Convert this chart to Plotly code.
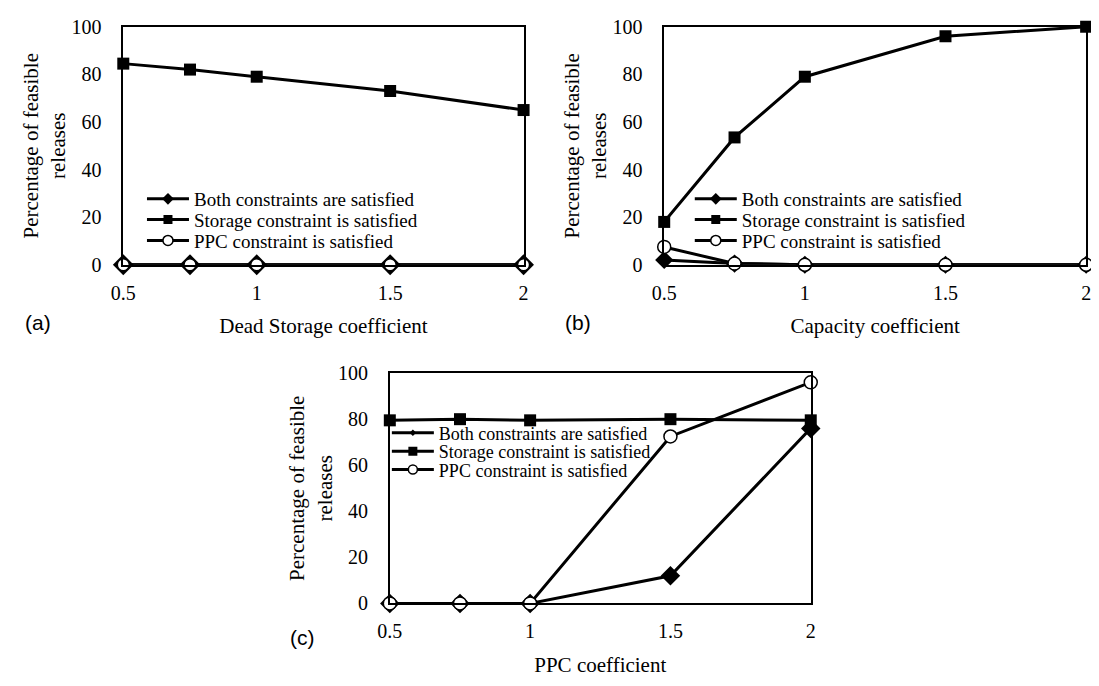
import plotly.graph_objects as go

# ---------------- data ----------------
coef = [0.5, 0.75, 1, 1.5, 2]
tick_vals = [0.5, 1, 1.5, 2]
tick_text = ["0.5", "1", "1.5", "2"]
y_tick_vals = [0, 20, 40, 60, 80, 100]

both_a = [0, 0, 0, 0, 0]
storage_a = [84.5, 82, 79, 73, 65]
ppc_a = [0, 0, 0, 0, 0]

both_b = [2, 0.5, 0, 0, 0]
storage_b = [18, 53.5, 79, 96, 100]
ppc_b = [7.5, 0.5, 0, 0, 0]

both_c = [0, 0, 0, 12, 76]
storage_c = [79.5, 80, 79.5, 80, 79.5]
ppc_c = [0, 0, 0, 72.5, 96]

series_names = ["Both constraints are satisfied",
                "Storage constraint is satisfied",
                "PPC constraint is satisfied"]
x_titles = ["Dead Storage coefficient", "Capacity coefficient", "PPC coefficient"]
y_title = "Percentage of feasible<br>releases"
panel_labels = ["(a)", "(b)", "(c)"]

# ---------------- layout helpers ----------------
PAGE_W, PAGE_H = 1099, 686
OFF = 8  # default body margin of the html page
W, H = PAGE_W - OFF, PAGE_H - OFF
SERIF = "Liberation Serif"
SANS = "Liberation Sans"
ITEM_W = 42


def fx(px):
    return (px - OFF) / W


def fy(py):
    return 1 - (py - OFF) / H


# plot boxes in page pixels: (left, right, top, bottom)
boxes = [(112, 519, 16, 262), (662, 1091, 16, 262), (383, 811, 374, 612)]
panel_data = [(both_a, storage_a, ppc_a), (both_b, storage_b, ppc_b), (both_c, storage_c, ppc_c)]
# legend placement (left px of legend, row centers px)
legend_pos = [(131, [194, 215.5, 237]), (688, [194, 215.5, 237]), (380, [436, 455, 474])]
legend_font = [19, 19, 18]
legend_marker = [(9, 9, 10), (9, 9, 10), (5, 9, 9)]
both_size = [16, 14, 15]
ppc_size = [12, 13, 13]
label_pos = [(25, 322), (574, 322), (294, 647)]

fig = go.Figure()
layout = dict(
    width=W, height=H,
    margin=dict(l=0, r=0, t=0, b=0),
    paper_bgcolor="white", plot_bgcolor="white",
    font=dict(family=SERIF, color="black", size=20),
    annotations=[],
)

leg_idx = 0
for i in range(3):
    sfx = "" if i == 0 else str(i + 1)
    xa, ya = "x" + sfx, "y" + sfx
    l, r, t, b = boxes[i]
    both, storage, ppc = panel_data[i]

    layout["xaxis" + sfx] = dict(
        domain=[fx(l), fx(r)], anchor=ya, range=[0.5, 2],
        tickvals=tick_vals, ticktext=tick_text,
        showgrid=False, zeroline=False,
        showline=True, mirror=True, linecolor="black", linewidth=1.5,
        ticks="", ticklabelstandoff=9,
        tickfont=dict(family=SERIF, size=20, color="black"),
        title=dict(text=x_titles[i], font=dict(family=SERIF, size=21, color="black"), standoff=16),
    )
    layout["yaxis" + sfx] = dict(
        domain=[fy(b), fy(t)], anchor=xa, range=[0, 100],
        tickvals=y_tick_vals,
        showgrid=False, zeroline=False,
        showline=True, mirror=True, linecolor="black", linewidth=1.5,
        ticks="", ticklabelstandoff=16,
        tickfont=dict(family=SERIF, size=20, color="black"),
        title=dict(text=y_title, font=dict(family=SERIF, size=21, color="black"), standoff=0),
    )

    # data traces
    fig.add_trace(go.Scatter(
        x=coef, y=both, xaxis=xa, yaxis=ya, mode="lines+markers", showlegend=False,
        line=dict(color="black", width=3),
        marker=dict(symbol="diamond", size=both_size[i], color="black"),
        cliponaxis=False, name=series_names[0]))
    fig.add_trace(go.Scatter(
        x=coef, y=storage, xaxis=xa, yaxis=ya, mode="lines+markers", showlegend=False,
        line=dict(color="black", width=3),
        marker=dict(symbol="square", size=12, color="black"),
        cliponaxis=False, name=series_names[1]))
    fig.add_trace(go.Scatter(
        x=coef, y=ppc, xaxis=xa, yaxis=ya, mode="lines+markers", showlegend=False,
        line=dict(color="black", width=3),
        marker=dict(symbol="circle", size=ppc_size[i], color="white", line=dict(color="black", width=1.5)),
        cliponaxis=False, name=series_names[2]))

    # legend entries (one small legend per row)
    lx, rows = legend_pos[i]
    ms = legend_marker[i]
    symbols = [("diamond", "black", 0), ("square", "black", 0), ("circle", "white", 1.5)]
    for k in range(3):
        leg_idx += 1
        lid = "legend" if leg_idx == 1 else "legend" + str(leg_idx)
        sym, col, lw = symbols[k]
        fig.add_trace(go.Scatter(
            x=[None], y=[None], xaxis=xa, yaxis=ya, mode="lines+markers",
            name=series_names[k], legend=lid, showlegend=True,
            line=dict(color="black", width=3),
            marker=dict(symbol=sym, size=ms[k], color=col, line=dict(color="black", width=lw))))
        layout[lid] = dict(
            x=fx(lx), y=fy(rows[k]), xanchor="left", yanchor="middle",
            bgcolor="rgba(0,0,0,0)", borderwidth=0, itemwidth=ITEM_W,
            font=dict(family=SERIF, size=legend_font[i], color="black"))

    ax, ay = label_pos[i]
    layout["annotations"].append(dict(
        text=panel_labels[i], x=fx(ax), y=fy(ay), xref="paper", yref="paper",
        showarrow=False, xanchor="center", yanchor="middle",
        font=dict(family=SANS, size=21, color="black")))

fig.update_layout(**layout)
fig.write_html("out.html")
